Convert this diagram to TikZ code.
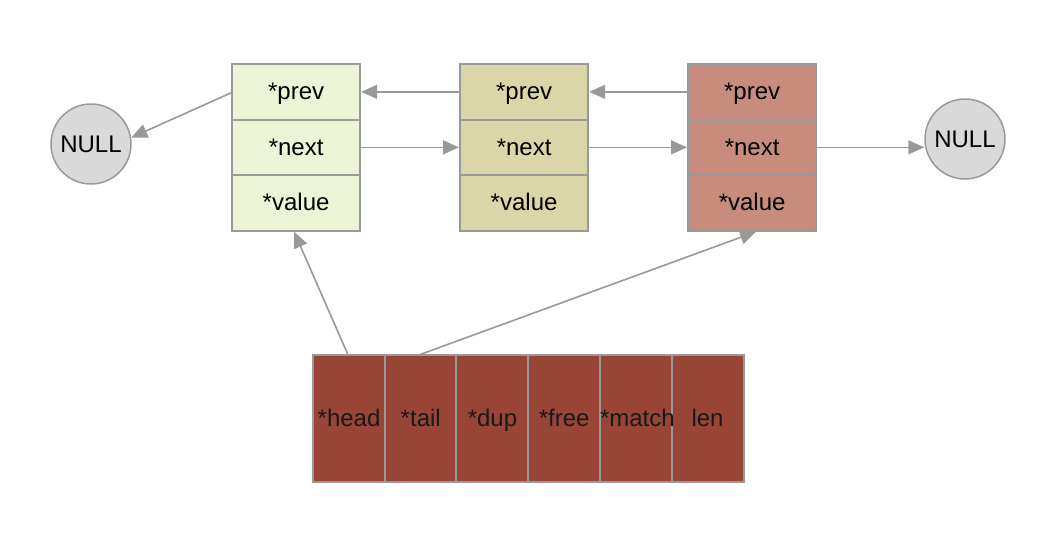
\documentclass[tikz,border=0pt]{standalone}
\usepackage{fontspec}
\setmainfont{Liberation Sans}
\usetikzlibrary{arrows.meta}
\pgfdeclarelayer{bg}
\pgfsetlayers{bg,main}
\definecolor{bdr}{HTML}{999999}
\definecolor{cA}{HTML}{EBF5D5}
\definecolor{cB}{HTML}{DAD6A8}
\definecolor{cC}{HTML}{C78C7C}
\definecolor{cD}{HTML}{994535}
\definecolor{cN}{HTML}{D9D9D9}
\tikzset{
  txt/.style={font=\fontsize{24}{28}\selectfont, text height=18pt, text depth=2pt},
  cell/.style={draw=bdr, line width=2.2pt, minimum width=128pt, minimum height=55.5pt, inner sep=0pt, txt, anchor=north west},
  bcell/.style={minimum width=71.7pt, minimum height=127pt, inner sep=0pt, txt, text=black!90, anchor=north west},
  bbox/.style={draw=bdr, line width=2pt, fill=cD},
  nullnode/.style={circle, draw=bdr, line width=1.5pt, fill=cN, minimum size=80pt, inner sep=0pt, txt},
  arr/.style={draw=bdr, line width=1.6pt, -{Triangle[length=16pt,width=14pt]}}
}
\begin{document}
\begin{tikzpicture}[x=1pt,y=-1pt]
\useasboundingbox (0,0) rectangle (1054,536);
% list nodes
\foreach \nm/\xx/\col in {a/231/cA, b/459/cB, c/687/cC}{
  \node[cell, fill=\col] (\nm p) at (\xx,63) {*prev};
  \node[cell, fill=\col] (\nm n) at (\xx,118.5) {*next};
  \node[cell, fill=\col] (\nm v) at (\xx,174) {*value};
}
\node[nullnode] (nl) at (91,144) {NULL};
\node[nullnode] (nr) at (965,139) {NULL};
% bottom struct
\node[bcell] (h) at (313,355) {*head};
\node[bcell] (t) at (384.7,355) {*tail};
\node[bcell] (d) at (456.4,355) {*dup};
\node[bcell] (f) at (528.1,355) {*free};
\node[bcell] (m) at (599.8,355) {*match};
\node[bcell] (l) at (671.5,355) {len};
\begin{pgfonlayer}{bg}
\foreach \c in {h,t,d,f,m,l}{
  \draw[bbox] (\c.north west) rectangle (\c.south east);
}
\end{pgfonlayer}
% arrows
\draw[arr] ([yshift=-1pt]ap.west) -- (nl.9);
\draw[arr] (bp.west) -- (ap.east);
\draw[arr] (cp.west) -- (bp.east);
\draw[arr] (an.east) -- (bn.west);
\draw[arr] (bn.east) -- (cn.west);
\draw[arr] (cn.east) -- (nr.west |- cn.east);
\draw[arr] ([xshift=-1pt]h.north) -- ([xshift=-2pt]av.south);
\draw[arr] ([xshift=-2pt]t.north) -- ([xshift=4pt]cv.south);
\end{tikzpicture}
\end{document}
